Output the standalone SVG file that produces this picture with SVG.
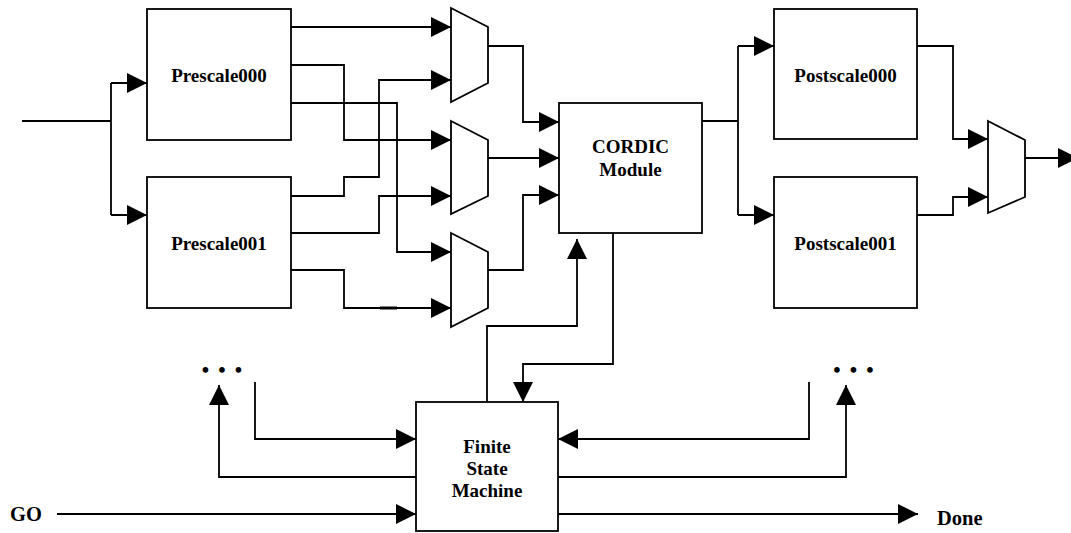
<svg xmlns="http://www.w3.org/2000/svg" width="1071" height="533" viewBox="0 0 1071 533">
<style>
.box{fill:#fff;stroke:#000;stroke-width:1.8}
.mux{fill:#fff;stroke:#000;stroke-width:1.8;stroke-linejoin:miter}
.w{fill:none;stroke:#000;stroke-width:1.8}
.a{fill:none;stroke:#000;stroke-width:1.8;marker-end:url(#ah)}
.t{font-family:"Liberation Serif","Times New Roman",serif;font-weight:bold;font-size:19px;fill:#000;text-anchor:middle}
.l{font-family:"Liberation Serif","Times New Roman",serif;font-weight:bold;font-size:20.5px;fill:#000}
.dots{font-family:"Liberation Serif","Times New Roman",serif;font-weight:bold;font-size:21px;fill:#000;letter-spacing:9.15px}
</style>
<defs>
<marker id="ah" markerUnits="userSpaceOnUse" markerWidth="20" markerHeight="20" refX="20" refY="10" orient="auto" viewBox="0 0 20 20">
<path d="M0,0 L20,10 L0,20 Z" fill="#000"/>
</marker>
</defs>
<g id="connectors">
<path class="w" d="M22,121 H111 M111,83 V215"/>
<path class="a" d="M111,83 H147"/>
<path class="a" d="M111,215 H147"/>
<path class="a" d="M291,27 H451"/>
<path class="a" d="M291,65 H344 V140 H451"/>
<path class="a" d="M291,103 H397 V252 H451"/>
<path class="a" d="M291,196 H344 V177 H379 V80 H451"/>
<path class="a" d="M291,233 H379 V196 H451"/>
<path class="a" d="M291,270 H344 V308 H451"/>
<path class="w" d="M380,308 H397" style="stroke-width:3"/>
<path class="a" d="M488,46 H523 V122 H559"/>
<path class="a" d="M488,158 H559"/>
<path class="a" d="M488,270 H523 V195 H559"/>
<path class="w" d="M702,121 H738 M738,46 V215"/>
<path class="a" d="M738,46 H774"/>
<path class="a" d="M738,215 H774"/>
<path class="a" d="M917,46 H953 V139 H988"/>
<path class="a" d="M917,215 H953 V197 H988"/>
<path class="a" d="M1025,158 H1078"/>
<path class="a" d="M613,233 V364 H523 V402"/>
<path class="a" d="M487,402 V326 H577 V239"/>
<path class="a" d="M255,382 V439 H416"/>
<path class="a" d="M416,477 H219 V385"/>
<path class="a" d="M57,514 H416"/>
<path class="a" d="M809,382 V439 H558"/>
<path class="a" d="M558,477 H846 V385"/>
<path class="a" d="M558,514 H918"/>
</g>
<g id="prescale000"><rect class="box" x="147" y="9" width="144" height="131"/><text class="t" x="219" y="82">Prescale000</text></g>
<g id="prescale001"><rect class="box" x="147" y="177" width="144" height="131"/><text class="t" x="219" y="250">Prescale001</text></g>
<g id="mux1"><polygon class="mux" points="451,8 488,27 488,83 451,102"/></g>
<g id="mux2"><polygon class="mux" points="451,121 488,140 488,196 451,214"/></g>
<g id="mux3"><polygon class="mux" points="451,233 488,252 488,308 451,327"/></g>
<g id="cordic"><rect class="box" x="559" y="103" width="143" height="130"/><text class="t" x="630.5" y="153">CORDIC</text><text class="t" x="630.5" y="176">Module</text></g>
<g id="postscale000"><rect class="box" x="774" y="9" width="143" height="130"/><text class="t" x="845.5" y="82">Postscale000</text></g>
<g id="postscale001"><rect class="box" x="774" y="177" width="143" height="131"/><text class="t" x="845.5" y="250">Postscale001</text></g>
<g id="mux4"><polygon class="mux" points="988,121 1025,140 1025,197 988,213"/></g>
<g id="fsm"><rect class="box" x="416" y="402" width="142" height="129"/><text class="t" x="487" y="453">Finite</text><text class="t" x="487" y="475">State</text><text class="t" x="487" y="497">Machine</text></g>
<g id="labels">
<text class="l" x="10" y="521">GO</text>
<text class="l" x="937" y="525">Done</text>
<text class="dots" x="201.8" y="377">•••</text>
<text class="dots" x="833.3" y="377">•••</text>
</g>
</svg>
